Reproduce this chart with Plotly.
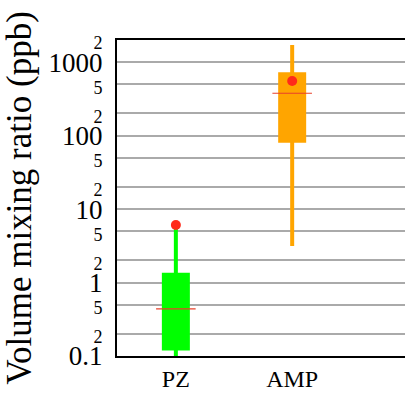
import plotly.graph_objects as go

categories = ["PZ", "AMP"]
q1 = [0.119, 80]
q3 = [1.36, 728]
median = [0.437, 377]
whisker_low = [0.09, 3.15]
whisker_high = [6.0, 1710]
mean = [6.08, 554]
colors = ["#00ff00", "#ffa500"]

tick_vals = [0.1, 0.2, 0.5, 1, 2, 5, 10, 20, 50, 100, 200, 500, 1000, 2000]
tick_major = ["0.1", "1", "10", "100", "1000"]

def tick_label(v):
    s = ("%g" % v)
    if s in tick_major:
        return s
    digit = s.replace("0", "").replace(".", "")
    return '<span style="font-size:18px">%s</span>' % digit

tick_text = [tick_label(v) for v in tick_vals]

fig = go.Figure()
for i, c in enumerate(categories):
    # whisker
    fig.add_trace(go.Scatter(x=[i, i], y=[whisker_low[i], whisker_high[i]], mode="lines",
                             line=dict(color=colors[i], width=4), showlegend=False, hoverinfo="skip"))
    # box
    fig.add_trace(go.Scatter(x=[i, i], y=[q1[i], q3[i]], mode="lines",
                             line=dict(color=colors[i], width=28), showlegend=False, hoverinfo="skip"))
    # median
    fig.add_trace(go.Scatter(x=[i - 0.17, i + 0.17], y=[median[i], median[i]], mode="lines",
                             line=dict(color="#e8402a", width=1.2), showlegend=False, hoverinfo="skip"))
    # mean dot
    fig.add_trace(go.Scatter(x=[i], y=[mean[i]], mode="markers",
                             marker=dict(color="#ff2a1a", size=10), showlegend=False, hoverinfo="skip"))

fig.update_layout(
    width=405, height=394,
    margin=dict(l=117, r=0, t=40, b=38),
    paper_bgcolor="white", plot_bgcolor="white",
    font=dict(family="Liberation Serif", color="black"),
    xaxis=dict(range=[-0.506, 1.97], tickvals=[0, 1], ticktext=categories,
               tickfont=dict(size=24), showgrid=False, zeroline=False,
               showline=True, linecolor="black", linewidth=2, mirror=True,
               ticks="", ticklabelstandoff=0, automargin=False),
    yaxis=dict(type="log", range=[-1, 3.301], tickvals=tick_vals, ticktext=tick_text,
               tickfont=dict(size=27), showgrid=True, gridcolor="#aaaaaa", gridwidth=1.5,
               showline=True, linecolor="black", linewidth=2, zeroline=False,
               ticks="", ticklabelstandoff=7, automargin=False,
               title=dict(text="Volume mixing ratio (ppb)", font=dict(size=35), standoff=10)),
)

fig.write_html("out.html")
